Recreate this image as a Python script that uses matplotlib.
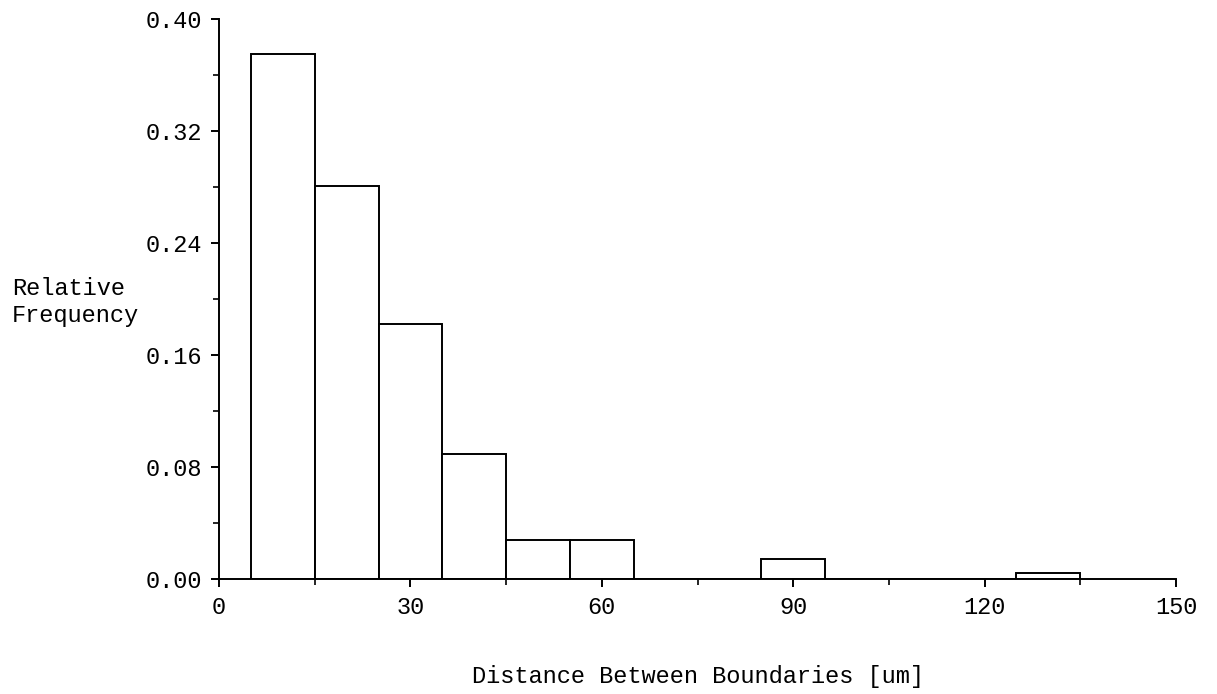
import numpy as np
import matplotlib
matplotlib.use('Agg')
import matplotlib.pyplot as plt
from matplotlib.ticker import MultipleLocator, FormatStrFormatter

# histogram bins (um) and relative frequency
bin_edges = [5, 15, 25, 35, 45, 55, 65, 75, 85, 95, 105, 115, 125, 135]
rel_freq = [0.375, 0.281, 0.182, 0.089, 0.028, 0.028, 0.0, 0.0, 0.014, 0.0, 0.0, 0.0, 0.0045]

x_ticks = [0, 30, 60, 90, 120, 150]
y_ticks = [0.00, 0.08, 0.16, 0.24, 0.32, 0.40]

plt.rcParams['font.family'] = ['Liberation Mono', 'DejaVu Sans Mono']
plt.rcParams['font.size'] = 17

fig = plt.figure(figsize=(12.17, 6.94), dpi=100)
ax = fig.add_axes([0.18, 0.1657, 0.9663 - 0.18, 0.9726 - 0.1657])

edges = np.array(bin_edges, dtype=float)
ax.bar(edges[:-1], rel_freq, width=np.diff(edges), align='edge',
       facecolor='white', edgecolor='black', linewidth=1.4)

ax.set_xlim(x_ticks[0], x_ticks[-1])
ax.set_ylim(y_ticks[0], y_ticks[-1])
ax.set_xticks(x_ticks)
ax.set_yticks(y_ticks)
ax.xaxis.set_minor_locator(MultipleLocator(15))
ax.yaxis.set_minor_locator(MultipleLocator(0.04))
ax.yaxis.set_major_formatter(FormatStrFormatter('%.2f'))

ax.spines['top'].set_visible(False)
ax.spines['right'].set_visible(False)
ax.spines['left'].set_linewidth(1.4)
ax.spines['bottom'].set_linewidth(1.4)
ax.tick_params(which='major', direction='out', length=6, width=1.4, pad=6.5)
ax.tick_params(which='minor', direction='out', length=4, width=1.2)

# labels
fig.text(12 / 1217, 1 - 302 / 694, 'Relative\nFrequency', ha='left', va='center',
         multialignment='left', linespacing=1.25)
fig.text(697.5 / 1217, 1 - 676 / 694, 'Distance Between Boundaries [um]',
         ha='center', va='center')

fig.savefig('out.png', dpi=100)
